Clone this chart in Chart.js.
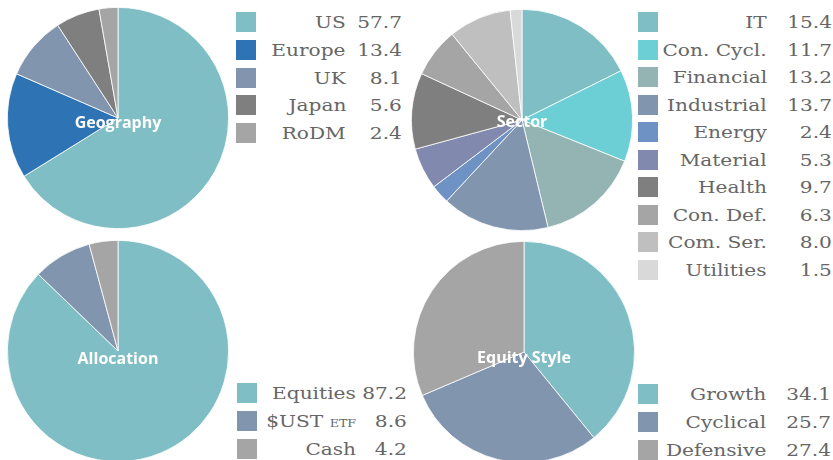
<!DOCTYPE html>
<html>
<head>
<meta charset="utf-8">
<script src="https://cdn.jsdelivr.net/npm/chart.js@4"></script>
<style>
  body { margin: 0; background: #fff; width: 833px; height: 460px; overflow: hidden; position: relative; }
  .pie { position: absolute; width: 222px; height: 222px; }
  .sq { position: absolute; width: 20px; height: 20px; }
  .txt {
    position: absolute; height: 28px; line-height: 28px;
    font-family: 'DejaVu Serif', serif; font-size: 17.5px; color: #666;
    white-space: nowrap; text-align: right;
    transform: scaleX(1.15); transform-origin: right center;
  }
  .txt small { font-size: 11px; }
</style>
</head>
<body>
<script>
// data
const geoLabels = ['US', 'Europe', 'UK', 'Japan', 'RoDM'];
const geoValues = [57.7, 13.4, 8.1, 5.6, 2.4];
const geoColors = ['#7fbec4', '#2e74b5', '#8196ae', '#7f7f7f', '#a5a5a5'];

const sectorLabels = ['IT', 'Con. Cycl.', 'Financial', 'Industrial', 'Energy', 'Material', 'Health', 'Con. Def.', 'Com. Ser.', 'Utilities'];
const sectorValues = [15.4, 11.7, 13.2, 13.7, 2.4, 5.3, 9.7, 6.3, 8.0, 1.5];
const sectorColors = ['#7fbec4', '#6ccfd5', '#93b4b2', '#8196ae', '#6f92c4', '#8189ae', '#7f7f7f', '#a5a5a5', '#bfbfbf', '#d9d9d9'];

const allocLabels = ['Equities', '$UST ETF', 'Cash'];
const allocValues = [87.2, 8.6, 4.2];
const allocColors = ['#7fbec4', '#8196ae', '#a5a5a5'];

const styleLabels = ['Growth', 'Cyclical', 'Defensive'];
const styleValues = [34.1, 25.7, 27.4];
const styleColors = ['#7fbec4', '#8196ae', '#a5a5a5'];

const panels = [
  { title: 'Geography', labels: geoLabels, values: geoValues, colors: geoColors,
    left: 7, top: 7, titleDy: 5, sqX: 236, rowY: 22, rowStep: 27.8, labelRight: 346, valueRight: 402 },
  { title: 'Sector', labels: sectorLabels, values: sectorValues, colors: sectorColors,
    left: 411, top: 9, titleDy: 2, sqX: 638, rowY: 22, rowStep: 27.5, labelRight: 767, valueRight: 832 },
  { title: 'Allocation', labels: allocLabels, values: allocValues, colors: allocColors,
    left: 7, top: 240, titleDy: 8, sqX: 237, rowY: 393, rowStep: 28, labelRight: 356, valueRight: 407 },
  { title: 'Equity Style', labels: styleLabels, values: styleValues, colors: styleColors,
    left: 413, top: 241, titleDy: 6, sqX: 638, rowY: 394, rowStep: 28, labelRight: 766, valueRight: 831 },
];

// white title in the middle of each pie
const centerTitle = {
  id: 'centerTitle',
  afterDatasetsDraw(chart, args, opts) {
    const arc = chart.getDatasetMeta(0).data[0];
    const ctx = chart.ctx;
    ctx.save();
    ctx.font = 'bold 16px "Open Sans"';
    ctx.fillStyle = '#fff';
    ctx.textAlign = 'center';
    ctx.textBaseline = 'middle';
    ctx.fillText(opts.text, arc.x, arc.y + opts.dy);
    ctx.restore();
  }
};

function addText(html, right, y) {
  const el = document.createElement('div');
  el.className = 'txt';
  el.style.right = (833 - right) + 'px';
  el.style.top = (y - 14) + 'px';
  el.innerHTML = html;
  document.body.appendChild(el);
}

panels.forEach(p => {
  const box = document.createElement('div');
  box.className = 'pie';
  box.style.left = p.left + 'px';
  box.style.top = p.top + 'px';
  const canvas = document.createElement('canvas');
  box.appendChild(canvas);
  document.body.appendChild(box);

  new Chart(canvas.getContext('2d'), {
    type: 'pie',
    data: {
      labels: p.labels,
      datasets: [{
        data: p.values,
        backgroundColor: p.colors,
        borderColor: '#ffffff',
        borderWidth: 0.8,
      }]
    },
    options: {
      responsive: true,
      maintainAspectRatio: false,
      animation: false,
      layout: { padding: 0 },
      plugins: {
        legend: false,
        tooltip: { enabled: false },
        centerTitle: { text: p.title, dy: p.titleDy },
      },
    },
    plugins: [centerTitle]
  });

  // legend: square, label, value
  p.labels.forEach((label, i) => {
    const y = p.rowY + i * p.rowStep;
    const sq = document.createElement('div');
    sq.className = 'sq';
    sq.style.left = p.sqX + 'px';
    sq.style.top = (y - 10) + 'px';
    sq.style.background = p.colors[i];
    document.body.appendChild(sq);
    addText(label.replace(/ ETF$/, ' <small>ETF</small>'), p.labelRight, y);
    addText(p.values[i].toFixed(1), p.valueRight, y);
  });
});
</script>
</body>
</html>
